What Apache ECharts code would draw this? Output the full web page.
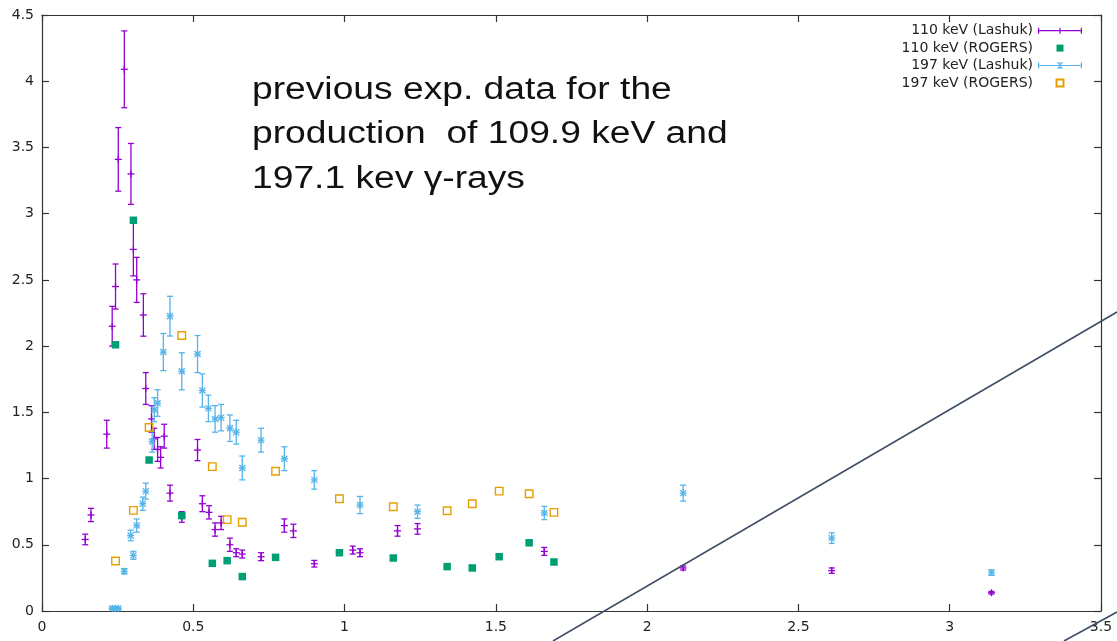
<!DOCTYPE html>
<html>
<head>
<meta charset="utf-8">
<script src="https://cdn.jsdelivr.net/npm/echarts@6/dist/echarts.min.js"></script>
<style>
  html, body { margin: 0; padding: 0; background: #fff; }
  #main { width: 1117px; height: 641px; }
</style>
</head>
<body>
<div id="main"></div>
<script>
// [x, y, error]
var lashuk110 = [
  [0.143, 0.54, 0.04], [0.162, 0.725, 0.05], [0.214, 1.335, 0.105],
  [0.232, 2.15, 0.15], [0.243, 2.45, 0.17], [0.252, 3.41, 0.24],
  [0.272, 4.09, 0.29], [0.294, 3.30, 0.23], [0.302, 2.73, 0.2],
  [0.313, 2.50, 0.17], [0.335, 2.235, 0.16], [0.343, 1.68, 0.12],
  [0.362, 1.45, 0.1], [0.371, 1.30, 0.08], [0.382, 1.22, 0.09],
  [0.392, 1.16, 0.08], [0.404, 1.32, 0.09], [0.423, 0.89, 0.06],
  [0.462, 0.71, 0.04], [0.514, 1.215, 0.08], [0.530, 0.81, 0.06],
  [0.552, 0.745, 0.05], [0.572, 0.615, 0.05], [0.592, 0.665, 0.05],
  [0.621, 0.50, 0.05], [0.642, 0.44, 0.03], [0.662, 0.43, 0.03],
  [0.724, 0.41, 0.03], [0.801, 0.645, 0.05], [0.831, 0.605, 0.05],
  [0.900, 0.357, 0.025], [1.027, 0.46, 0.03], [1.051, 0.44, 0.03],
  [1.175, 0.605, 0.04], [1.241, 0.62, 0.04], [1.660, 0.45, 0.03],
  [2.119, 0.325, 0.015], [2.610, 0.305, 0.02], [3.138, 0.138, 0.01]
];

var lashuk197 = [
  [0.232, 0.02, 0.01], [0.243, 0.02, 0.01], [0.252, 0.02, 0.01],
  [0.272, 0.30, 0.02], [0.293, 0.57, 0.04], [0.302, 0.42, 0.03],
  [0.313, 0.645, 0.05], [0.333, 0.81, 0.05], [0.343, 0.905, 0.06],
  [0.364, 1.28, 0.08], [0.371, 1.52, 0.09], [0.382, 1.57, 0.1],
  [0.401, 1.955, 0.14], [0.423, 2.226, 0.15], [0.462, 1.81, 0.14],
  [0.514, 1.94, 0.14], [0.530, 1.665, 0.125], [0.550, 1.53, 0.1],
  [0.572, 1.45, 0.1], [0.592, 1.46, 0.1], [0.621, 1.38, 0.1],
  [0.642, 1.35, 0.09], [0.662, 1.08, 0.09], [0.724, 1.29, 0.09],
  [0.801, 1.15, 0.09], [0.900, 0.99, 0.07], [1.051, 0.80, 0.065],
  [1.241, 0.75, 0.05], [1.660, 0.74, 0.05], [2.119, 0.89, 0.06],
  [2.610, 0.55, 0.04], [3.138, 0.29, 0.02]
];

var rogersX = [0.243, 0.302, 0.354, 0.462, 0.563, 0.612, 0.662, 0.772, 0.983, 1.161, 1.339, 1.422, 1.511, 1.610, 1.692];
var rogers110 = [2.01, 2.95, 1.14, 0.72, 0.36, 0.38, 0.26, 0.405, 0.44, 0.40, 0.335, 0.325, 0.41, 0.515, 0.37];
var rogers197 = [0.377, 0.76, 1.385, 2.08, 1.09, 0.69, 0.67, 1.055, 0.848, 0.787, 0.757, 0.81, 0.905, 0.885, 0.745];

var seriesNames = ['110 keV (Lashuk)', '110 keV (ROGERS)', '197 keV (Lashuk)', '197 keV (ROGERS)'];

var myChart = echarts.init(document.getElementById('main'));

function zip(xs, ys) {
  return xs.map(function (x, i) { return [x, ys[i]]; });
}

// error bar with caps, plus a "+" or "*" point marker
function errorBars(star) {
  return function (params, api) {
    var x = api.value(0), y = api.value(1), e = api.value(2);
    var p = api.coord([x, y]);
    var lo = api.coord([x, y - e]);
    var hi = api.coord([x, y + e]);
    var style = { stroke: api.visual('color'), lineWidth: 1.3 };
    var cap = 3;
    var m = 3.5;
    var kids = [
      { type: 'line', shape: { x1: p[0], y1: lo[1], x2: p[0], y2: hi[1] }, style: style },
      { type: 'line', shape: { x1: p[0] - cap, y1: lo[1], x2: p[0] + cap, y2: lo[1] }, style: style },
      { type: 'line', shape: { x1: p[0] - cap, y1: hi[1], x2: p[0] + cap, y2: hi[1] }, style: style },
      { type: 'line', shape: { x1: p[0] - m, y1: p[1], x2: p[0] + m, y2: p[1] }, style: style },
      { type: 'line', shape: { x1: p[0], y1: p[1] - m, x2: p[0], y2: p[1] + m }, style: style }
    ];
    if (star) {
      kids.push({ type: 'line', shape: { x1: p[0] - 3, y1: p[1] - 3, x2: p[0] + 3, y2: p[1] + 3 }, style: style });
      kids.push({ type: 'line', shape: { x1: p[0] - 3, y1: p[1] + 3, x2: p[0] + 3, y2: p[1] - 3 }, style: style });
    }
    return { type: 'group', children: kids };
  };
}

var barIcon = 'path://M0,4.4h44v1.2h-44z M0,2h1.2v6h-1.2z M42.8,2h1.2v6h-1.2z M21.4,2h1.2v6h-1.2z';
var starIcon = 'path://M0,4.4h44v1.2h-44z M0,2h1.2v6h-1.2z M42.8,2h1.2v6h-1.2z M21.4,1.5h1.2v7h-1.2z' +
  ' M19,2 L19.9,1.4 L25,8 L24.1,8.6z M25,2 L24.1,1.4 L19,8 L19.9,8.6z';
// a small square centred in the 44px wide sample box
var squareIcon = 'path://M0,0 M44,10 M18.5,1.5h7v7h-7z';

var axisLine = { show: true, onZero: false, lineStyle: { color: '#333', width: 1.2 } };
var tick = { show: true, inside: true, length: 7, lineStyle: { color: '#333', width: 1.2 } };
var labelFont = { color: '#222', fontSize: 14, fontFamily: 'DejaVu Sans' };

var option = {
  backgroundColor: '#fff',
  animation: false,
  grid: { left: 42, right: 16, top: 15, bottom: 30 },
  legend: {
    orient: 'vertical',
    align: 'right',
    right: 34,
    top: 22,
    padding: 0,
    itemWidth: 44,
    itemHeight: 10,
    itemGap: 0,
    textStyle: { fontSize: 14, lineHeight: 17.4, fontFamily: 'DejaVu Sans', color: '#222' },
    data: [
      { name: seriesNames[0], icon: barIcon },
      { name: seriesNames[1], icon: squareIcon },
      { name: seriesNames[2], icon: starIcon },
      { name: seriesNames[3], icon: squareIcon }
    ]
  },
  xAxis: [
    {
      type: 'value', min: 0, max: 3.5, interval: 0.5,
      axisLine: axisLine, axisTick: tick, splitLine: { show: false },
      axisLabel: Object.assign({ margin: 9, formatter: function (v) { return String(v); } }, labelFont)
    },
    {
      type: 'value', position: 'top', min: 0, max: 3.5, interval: 0.5,
      axisLine: axisLine, axisTick: tick, splitLine: { show: false },
      axisLabel: { show: false }
    }
  ],
  yAxis: [
    {
      type: 'value', min: 0, max: 4.5, interval: 0.5,
      axisLine: axisLine, axisTick: tick, splitLine: { show: false },
      axisLabel: Object.assign({ margin: 8, formatter: function (v) { return String(v); } }, labelFont)
    },
    {
      type: 'value', position: 'right', min: 0, max: 4.5, interval: 0.5,
      axisLine: axisLine, axisTick: tick, splitLine: { show: false },
      axisLabel: { show: false }
    }
  ],
  series: [
    {
      name: seriesNames[0], type: 'custom', renderItem: errorBars(false),
      itemStyle: { color: '#9400d3' }, data: lashuk110, z: 2
    },
    {
      name: seriesNames[1], type: 'scatter', symbol: 'rect', symbolSize: 7.5,
      itemStyle: { color: '#009e73', opacity: 1 }, data: zip(rogersX, rogers110), z: 3
    },
    {
      name: seriesNames[2], type: 'custom', renderItem: errorBars(true),
      itemStyle: { color: '#56b4e9' }, data: lashuk197, z: 4
    },
    {
      name: seriesNames[3], type: 'scatter', symbol: 'rect', symbolSize: 7.5,
      itemStyle: { color: 'rgba(0,0,0,0)', borderColor: '#e69f00', borderWidth: 1.4, opacity: 1 },
      data: zip(rogersX, rogers197), z: 5
    }
  ],
  graphic: [
    {
      type: 'text', left: 252, top: 68, z: 10, scaleX: 1.2,
      style: {
        text: 'previous exp. data for the\nproduction  of 109.9 keV and\n197.1 kev \u03b3-rays',
        font: '31px "Liberation Sans", Arial, sans-serif',
        lineHeight: 44.5,
        fill: '#111'
      }
    },
    {
      type: 'line', z: 10,
      shape: { x1: 553, y1: 641, x2: 1117, y2: 312 },
      style: { stroke: '#3e4e63', lineWidth: 1.6 }
    },
    {
      type: 'line', z: 10,
      shape: { x1: 1064, y1: 641, x2: 1117, y2: 612 },
      style: { stroke: '#3e4e63', lineWidth: 1.6 }
    }
  ]
};

option && myChart.setOption(option);
</script>
</body>
</html>
